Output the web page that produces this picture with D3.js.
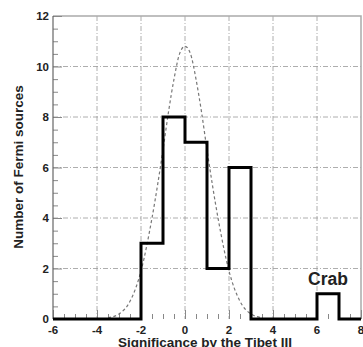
<!DOCTYPE html>
<meta charset="utf-8">
<style>
body { margin: 0; background: #fff; }
text { font-family: "Liberation Sans", Arial, sans-serif; font-weight: bold; fill: #222; }
.grid line { stroke: #999; stroke-width: 0.8; stroke-dasharray: 5,2,1,2; }
</style>

<svg width="363" height="347"></svg>

<script src="https://d3js.org/d3.v7.min.js"></script>
<script>

// histogram bins: lower edge, upper edge, count
var binLo = [-6, -2, -1, 0, 1, 2, 3, 6, 7];
var binHi = [-2, -1, 0, 1, 2, 3, 6, 7, 8];
var counts = [0, 3, 8, 7, 2, 6, 0, 1, 0];

// dashed reference curve
var curveX = [-3.5, -3, -2.5, -2, -1.5, -1, -0.75, -0.5, -0.25, 0, 0.25, 0.5, 0.75, 1, 1.5, 2, 2.5, 3, 3.5];
var curveY = [0.05, 0.2, 0.7, 1.9, 4.0, 6.7, 8.2, 9.5, 10.5, 10.8, 10.5, 9.5, 8.2, 6.7, 4.0, 1.9, 0.7, 0.2, 0.05];

var xTicks = [-6, -4, -2, 0, 2, 4, 6, 8];
var yTicks = [0, 2, 4, 6, 8, 10, 12];

var svg = d3.select("svg");
var pl = 53, pr = 361, pt = 16, pb = 319;

var x = d3.scaleLinear().domain([-6, 8]).range([pl, pr]);
var y = d3.scaleLinear().domain([0, 12]).range([pb, pt]);

// grid
var grid = svg.append("g").attr("class", "grid");
grid.selectAll(".gx").data(xTicks.filter(d => d > -6 && d < 8)).enter().append("line")
    .attr("x1", d => x(d)).attr("x2", d => x(d)).attr("y1", pt).attr("y2", pb);
grid.selectAll(".gy").data(yTicks.filter(d => d > 0 && d < 12)).enter().append("line")
    .attr("x1", pl).attr("x2", pr).attr("y1", d => y(d)).attr("y2", d => y(d));

// frame (top/right light)
svg.append("path")
    .attr("d", `M${pl},${pt}H${pr}V${pb}`)
    .attr("fill", "none").attr("stroke", "#aaa").attr("stroke-width", 1.5);

// axes with inward minor ticks
var xAxis = svg.append("g").attr("transform", `translate(0,${pb})`)
    .call(d3.axisBottom(x).tickValues(d3.range(-6, 8.01, 0.5)).tickSize(-5).tickFormat(""));
xAxis.select(".domain").remove();
xAxis.selectAll("line").attr("stroke", "#888");
xAxis.selectAll(".tick line").filter(d => d % 2 === 0).attr("y2", -9);

var yAxis = svg.append("g").attr("transform", `translate(${pl},0)`)
    .call(d3.axisLeft(y).tickValues(d3.range(0, 12.01, 0.5)).tickSize(-5).tickFormat(""));
yAxis.select(".domain").remove();
yAxis.selectAll("line").attr("stroke", "#888");
yAxis.selectAll(".tick line").filter(d => d % 2 === 0).attr("x2", 9);

svg.append("line").attr("x1", pl).attr("x2", pl).attr("y1", pt).attr("y2", pb)
    .attr("stroke", "#666").attr("stroke-width", 1.2);

// tick labels
svg.selectAll(".xl").data(xTicks).enter().append("text")
    .attr("x", d => x(d)).attr("y", 334).attr("text-anchor", "middle")
    .attr("font-size", 11.5).text(d => d);
svg.selectAll(".yl").data(yTicks).enter().append("text")
    .attr("x", pl - 4).attr("y", d => y(d) + 4).attr("text-anchor", "end")
    .attr("font-size", 11.5).text(d => d);

// gaussian
var pts = curveX.map((v, i) => [v, curveY[i]]);
svg.append("path").datum(pts)
    .attr("d", d3.line().x(d => x(d[0])).y(d => y(d[1])).curve(d3.curveMonotoneX))
    .attr("fill", "none").attr("stroke", "#777").attr("stroke-width", 1.2)
    .attr("stroke-dasharray", "3,2.5");

// histogram outline
var step = [];
binLo.forEach((lo, i) => { step.push([lo, counts[i]]); step.push([binHi[i], counts[i]]); });
svg.append("path").datum(step)
    .attr("d", d3.line().x(d => x(d[0])).y(d => y(d[1])))
    .attr("fill", "none").attr("stroke", "#000").attr("stroke-width", 3)
    .attr("stroke-linejoin", "miter");

// labels
svg.append("text").attr("x", x(6.5)).attr("y", 285).attr("text-anchor", "middle")
    .attr("font-size", 17.5).style("font-weight", "600").text("Crab");

svg.append("text").attr("x", 205).attr("y", 347).attr("text-anchor", "middle")
    .attr("font-size", 13.5).text("Significance by the Tibet III");

svg.append("text").attr("transform", "translate(23,167) rotate(-90)")
    .attr("text-anchor", "middle").attr("font-size", 13.5).text("Number of Fermi sources");

</script>
